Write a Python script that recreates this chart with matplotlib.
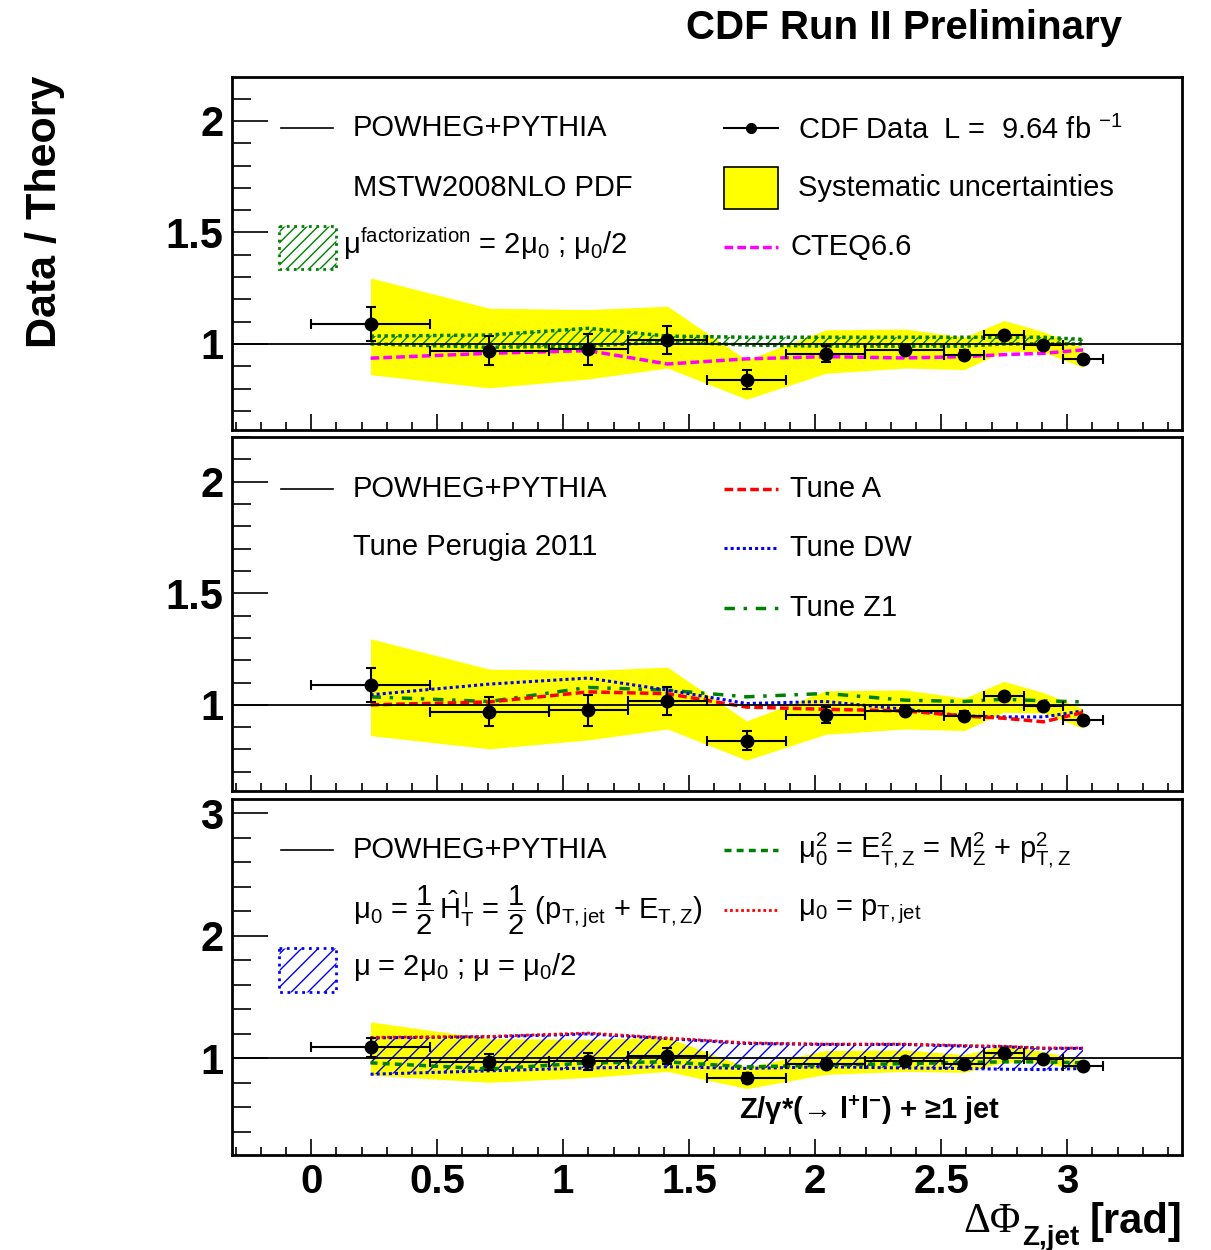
import numpy as np
import matplotlib
matplotlib.use("Agg")
import matplotlib.pyplot as plt
from matplotlib.lines import Line2D
from matplotlib.patches import Rectangle
from matplotlib.transforms import Affine2D
from matplotlib.ticker import MultipleLocator

plt.rcParams["font.family"] = ["Liberation Sans", "DejaVu Sans"]
plt.rcParams["mathtext.fontset"] = "custom"
plt.rcParams["mathtext.rm"] = "Liberation Sans"
plt.rcParams["mathtext.it"] = "Liberation Sans:italic"
plt.rcParams["mathtext.bf"] = "Liberation Sans:bold"
plt.rcParams["hatch.linewidth"] = 1.0

# Delta phi bins (in units of pi)
bin_edges_pi = [0, 0.15, 0.3, 0.4, 0.5, 0.6, 0.7, 0.8, 0.85, 0.9, 0.95, 1.0]

# CDF data / theory and uncertainties
data_ratio = [1.090, 0.970, 0.976, 1.018, 0.840, 0.955, 0.973, 0.951, 1.040, 0.994, 0.933]
data_err = [0.077, 0.065, 0.070, 0.062, 0.043, 0.035, 0.020, 0.020, 0.015, 0.015, 0.012]
syst_hi = [1.296, 1.160, 1.154, 1.169, 0.928, 1.063, 1.067, 1.030, 1.105, 1.055, 0.982]
syst_lo = [0.862, 0.803, 0.843, 0.892, 0.752, 0.868, 0.892, 0.885, 0.967, 0.963, 0.895]

# top panel: PDF / factorization scale
fact_hi = [1.035, 1.040, 1.070, 1.035, 1.030, 1.030, 1.030, 1.030, 1.030, 1.030, 1.020]
fact_lo = [1.000, 0.985, 0.990, 1.010, 0.995, 0.990, 0.990, 0.990, 1.000, 1.000, 1.000]
cteq66 = [0.936, 0.958, 0.970, 0.910, 0.933, 0.943, 0.937, 0.943, 0.952, 0.958, 0.973]

# middle panel: underlying event tunes
tune_a = [1.000, 1.013, 1.058, 1.050, 0.990, 0.980, 0.973, 0.950, 0.940, 0.924, 0.966]
tune_dw = [1.045, 1.093, 1.120, 1.066, 1.006, 1.015, 0.980, 0.950, 0.946, 0.946, 0.973]
tune_z1 = [1.036, 1.015, 1.078, 1.066, 1.036, 1.051, 1.021, 1.015, 1.025, 1.018, 1.013]

# bottom panel: scale choices
scale_hi = [1.166, 1.174, 1.198, 1.160, 1.120, 1.112, 1.112, 1.098, 1.093, 1.080, 1.080]
scale_lo = [0.869, 0.897, 0.920, 0.930, 0.916, 0.930, 0.920, 0.916, 0.910, 0.907, 0.916]
mu_ptjet = [1.170, 1.178, 1.205, 1.165, 1.125, 1.115, 1.115, 1.103, 1.098, 1.083, 1.083]
mu_etz = [0.962, 0.912, 0.962, 0.970, 0.929, 0.943, 0.956, 0.965, 0.970, 0.970, 0.962]

edges = np.array(bin_edges_pi) * np.pi
x = 0.5 * (edges[:-1] + edges[1:])
xerr = 0.5 * (edges[1:] - edges[:-1])

W, H = 1211, 1250
fig = plt.figure(figsize=(W / 100, H / 100), dpi=100)
# pixel coordinates, origin top-left (for legend layout)
pix = Affine2D().scale(1.0 / W, -1.0 / H).translate(0, 1) + fig.transFigure

GREEN = "#008000"
YELLOW = "#ffff00"


def make_panel(top, bot, ylim, yticks, ylabels, yminor, xlabels=False):
    ax = fig.add_axes([232 / W, 1 - bot / H, 950 / W, (bot - top) / H])
    ax.set_xlim(-0.1 * np.pi, 1.1 * np.pi)
    ax.set_ylim(*ylim)
    for s in ax.spines.values():
        s.set_linewidth(2)
    ax.set_yticks(yticks, ylabels, fontsize=30, fontweight="bold")
    ax.yaxis.set_minor_locator(MultipleLocator(yminor))
    ax.xaxis.set_major_locator(MultipleLocator(0.5))
    ax.xaxis.set_minor_locator(MultipleLocator(0.1))
    ax.tick_params(axis="y", which="major", direction="in", length=26, width=1.2, pad=6)
    ax.tick_params(axis="y", which="minor", direction="in", length=14, width=1.2)
    ax.tick_params(axis="x", which="major", direction="in", length=11.5, width=1.2, pad=6)
    ax.tick_params(axis="x", which="minor", direction="in", length=6, width=1.2)
    if xlabels:
        ax.set_xticks([0, 0.5, 1, 1.5, 2, 2.5, 3], ["0", "0.5", "1", "1.5", "2", "2.5", "3"],
                      fontsize=29, fontweight="bold")
    else:
        ax.tick_params(axis="x", labelbottom=False)
    ax.fill_between(x, syst_lo, syst_hi, color=YELLOW, lw=0, zorder=1)
    ax.axhline(1.0, color="black", lw=1.3, zorder=4)
    ax.errorbar(x, data_ratio, xerr=xerr, yerr=data_err, fmt="o", color="black", ms=9,
                elinewidth=1.5, capsize=3.5, capthick=1.5, zorder=6)
    return ax


def key_line(x0, x1, y, **kw):
    fig.add_artist(Line2D([x0, x1], [y, y], transform=pix, **kw))


def key_box(x0, y0, x1, y1, **kw):
    fig.add_artist(Rectangle((x0, y0), x1 - x0, y1 - y0, transform=pix, **kw))


def key_text(xp, yp, s, **kw):
    kw.setdefault("fontsize", 21)
    fig.text(xp, yp, s, transform=pix, va="center", ha="left", **kw)


# ---------- top panel ----------
ax1 = make_panel(77, 430, (0.614, 2.197), [1, 1.5, 2], ["1", "1.5", "2"], 0.1)
ax1.fill_between(x, fact_lo, fact_hi, facecolor="none", edgecolor=GREEN, hatch="///", lw=0, zorder=2)
ax1.plot(x, fact_hi, color=GREEN, lw=2.5, dashes=(1, 1), zorder=3)
ax1.plot(x, fact_lo, color=GREEN, lw=2.5, dashes=(1, 1), zorder=3)
ax1.plot(x, cteq66, color="#ff00ff", lw=2.5, dashes=(2.5, 1.2), zorder=3)

key_line(281, 333, 128, color="black", lw=1.2)
key_text(353, 128, "POWHEG+PYTHIA")
key_text(353, 188, "MSTW2008NLO PDF")
key_box(279, 226, 336, 269, facecolor="none", edgecolor=GREEN, hatch="///", lw=2, linestyle=":")
key_text(343, 244, r"$\mathrm{\mu^{factorization}}$ = 2$\mathrm{\mu_{0}}$ ; $\mathrm{\mu_{0}}$/2")
key_line(724, 778, 128, color="black", lw=1.5)
fig.add_artist(Line2D([751], [128], transform=pix, marker="o", ms=7, color="black"))
key_text(798, 130, r"CDF Data  L =  9.64 fb $^{\mathrm{-1}}$")
key_box(724, 167, 778, 209, facecolor=YELLOW, edgecolor="black", lw=1.2)
key_text(798, 188, "Systematic uncertainties")
key_line(724, 778, 247, color="#ff00ff", lw=2.5, dashes=(2.5, 1.2))
key_text(790, 247, "CTEQ6.6")

# ---------- middle panel ----------
ax2 = make_panel(437, 791, (0.614, 2.2), [1, 1.5, 2], ["1", "1.5", "2"], 0.1)
ax2.plot(x, tune_z1, color=GREEN, lw=2.5, dashes=(3, 2.5, 1, 2.5), zorder=3)
ax2.plot(x, tune_dw, color="#0000ff", lw=2.2, dashes=(1, 1), zorder=3)
ax2.plot(x, tune_a, color="#ff0000", lw=2.5, dashes=(2.5, 1.2), zorder=3)

key_line(281, 333, 489, color="black", lw=1.2)
key_text(353, 489, "POWHEG+PYTHIA")
key_text(353, 547, "Tune Perugia 2011")
key_line(724, 778, 489, color="#ff0000", lw=2.5, dashes=(2.5, 1.2))
key_text(790, 489, "Tune A")
key_line(724, 778, 548, color="#0000ff", lw=2.2, dashes=(1, 1))
key_text(790, 548, "Tune DW")
key_line(724, 778, 608, color=GREEN, lw=2.5, dashes=(3, 2.5, 1, 2.5))
key_text(790, 608, "Tune Z1")

# ---------- bottom panel ----------
ax3 = make_panel(799, 1155, (0.21, 3.115), [1, 2, 3], ["1", "2", "3"], 0.2, xlabels=True)
ax3.fill_between(x, scale_lo, scale_hi, facecolor="none", edgecolor="#0000ff", hatch="//", lw=0, zorder=2)
ax3.plot(x, scale_hi, color="#0000ff", lw=2.2, dashes=(1, 1), zorder=3)
ax3.plot(x, scale_lo, color="#0000ff", lw=2.2, dashes=(1, 1), zorder=3)
ax3.plot(x, mu_ptjet, color="#ff0000", lw=2.0, dashes=(1, 1), zorder=3)
ax3.plot(x, mu_etz, color=GREEN, lw=2.5, dashes=(2, 1.5), zorder=3)

key_line(281, 333, 850, color="black", lw=1.2)
key_text(353, 850, "POWHEG+PYTHIA")
key_text(353, 910, r"$\mathrm{\mu_{0}}$ = $\mathrm{\dfrac{1}{2}\,\hat{H}_T^{\,l}}$ = "
                   r"$\mathrm{\dfrac{1}{2}}$ (p$_{\mathrm{T,jet}}$ + E$_{\mathrm{T,Z}}$)")
key_box(279, 948, 336, 992, facecolor="none", edgecolor="#0000ff", hatch="//", lw=2, linestyle=":")
key_text(353, 967, r"$\mathrm{\mu}$ = 2$\mathrm{\mu_{0}}$ ; $\mathrm{\mu}$ = $\mathrm{\mu_{0}}$/2")
key_line(724, 778, 850, color=GREEN, lw=2.5, dashes=(2, 1.5))
key_text(798, 850, r"$\mathrm{\mu_0^2}$ = E$_{\mathrm{T,Z}}^{\mathrm{2}}$ = M$_{\mathrm{Z}}^{\mathrm{2}}$"
                   r" + p$_{\mathrm{T,Z}}^{\mathrm{2}}$")
key_line(724, 778, 910, color="#ff0000", lw=2.0, dashes=(1, 1))
key_text(798, 912, r"$\mathrm{\mu_{0}}$ = p$_{\mathrm{T,jet}}$")
fig.text(870, 1110, "Z/\u03b3*(\u2192 l$^{\\mathbf{+}}$l$^{\\mathbf{-}}$) + \u22651 jet", transform=pix,
         ha="center", va="center", fontsize=21, fontweight="bold")

# ---------- titles / axis labels ----------
fig.text(904, 28, "CDF Run II Preliminary", transform=pix, ha="center", va="center",
         fontsize=29, fontweight="bold")
fig.text(45, 212, "Data / Theory", transform=pix, ha="center", va="center", rotation=90,
         fontsize=31, fontweight="bold")
fig.text(1021, 1222, "\u0394\u03a6", transform=pix, ha="right", va="center", fontsize=30,
         family="Liberation Serif")
fig.text(1022, 1238, "Z,jet", transform=pix, ha="left", va="center", fontsize=20, fontweight="bold")
fig.text(1182, 1222, "[rad]", transform=pix, ha="right", va="center", fontsize=30, fontweight="bold")

fig.savefig("out.png", dpi=100)
